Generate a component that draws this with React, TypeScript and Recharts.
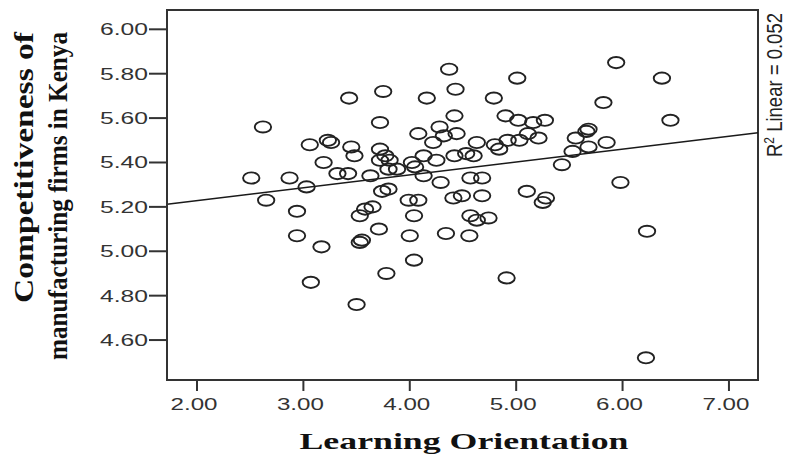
import { ScatterChart, Scatter, XAxis, YAxis, ReferenceLine, ReferenceArea } from 'recharts'

// Learning Orientation scores (x) and competitiveness scores (y), one entry per firm
const learningOrientation = [
  2.51, 2.62, 2.65, 2.87, 2.94, 2.94, 3.03, 3.06, 3.07, 3.17,
  3.19, 3.23, 3.26, 3.32, 3.42, 3.43, 3.45, 3.48, 3.50, 3.53,
  3.53, 3.55, 3.58, 3.63, 3.65, 3.71, 3.72, 3.72, 3.72, 3.74,
  3.75, 3.77, 3.78, 3.80, 3.81, 3.80, 3.88, 3.99, 4.00, 4.02,
  4.04, 4.04, 4.05, 4.08, 4.08, 4.13, 4.13, 4.16, 4.22, 4.25,
  4.28, 4.29, 4.32, 4.34, 4.37, 4.41, 4.42, 4.42, 4.43, 4.44,
  4.49, 4.53, 4.56, 4.57, 4.57, 4.60, 4.63, 4.63, 4.68, 4.68,
  4.74, 4.79, 4.80, 4.84, 4.90, 4.91, 4.92, 5.01, 5.02, 5.03,
  5.10, 5.11, 5.16, 5.21, 5.25, 5.27, 5.28, 5.43, 5.53, 5.56,
  5.66, 5.68, 5.68, 5.82, 5.85, 5.94, 5.98, 6.23, 6.22, 6.37,
  6.45,
]

const competitiveness = [
  5.33, 5.56, 5.23, 5.33, 5.18, 5.07, 5.29, 5.48, 4.86, 5.02,
  5.40, 5.50, 5.49, 5.35, 5.35, 5.69, 5.47, 5.43, 4.76, 5.16,
  5.04, 5.05, 5.19, 5.34, 5.20, 5.10, 5.58, 5.46, 5.41, 5.27,
  5.72, 5.43, 4.90, 5.28, 5.41, 5.37, 5.37, 5.23, 5.07, 5.40,
  5.16, 4.96, 5.38, 5.23, 5.53, 5.43, 5.34, 5.69, 5.49, 5.41,
  5.56, 5.31, 5.52, 5.08, 5.82, 5.24, 5.61, 5.43, 5.73, 5.53,
  5.25, 5.44, 5.07, 5.16, 5.33, 5.43, 5.14, 5.49, 5.25, 5.33,
  5.15, 5.69, 5.48, 5.46, 5.61, 4.88, 5.50, 5.78, 5.59, 5.50,
  5.27, 5.53, 5.58, 5.51, 5.22, 5.59, 5.24, 5.39, 5.45, 5.51,
  5.54, 5.55, 5.47, 5.67, 5.49, 5.85, 5.31, 5.09, 4.52, 5.78,
  5.59,
]

const xTicks = [2, 3, 4, 5, 6, 7]
const yTicks = [4.6, 4.8, 5.0, 5.2, 5.4, 5.6, 5.8, 6.0]
const xDomain = [1.718, 7.273]
const yDomain = [4.42, 6.087]

// fit line end points (linear fit, R2 = 0.052)
const fitX = [1.718, 7.273]
const fitY = [5.212, 5.534]

const rSquared = '0.052'

const SERIF = "'Liberation Serif', 'Times New Roman', serif"
const SANS = "'Liberation Sans', Arial, sans-serif"
const NARROW = "'Liberation Sans Narrow', 'Liberation Sans', Arial, sans-serif"

const data = learningOrientation.map((x, i) => ({ x, y: competitiveness[i] }))

const OpenCircle = (props: any) => {
  const { cx, cy } = props
  if (cx == null || cy == null) return null
  return <ellipse cx={cx} cy={cy} rx={8.2} ry={5.6} fill="none" stroke="#222" strokeWidth={1.9} />
}

const YTick = ({ x, y, payload }: any) => (
  <text x={x} y={y + 6} textAnchor="end" fontFamily={SANS} fontSize={16.5} fill="#333"
    textLength={48} lengthAdjust="spacingAndGlyphs">
    {Number(payload.value).toFixed(2)}
  </text>
)

const XTick = ({ x, y, payload }: any) => (
  <text x={x - 3} y={y + 17} textAnchor="middle" fontFamily={SANS} fontSize={16.5} fill="#333"
    textLength={47} lengthAdjust="spacingAndGlyphs">
    {Number(payload.value).toFixed(2)}
  </text>
)

const YTitle = () => (
  <g fontFamily={SERIF} fontWeight="bold" fontSize={22} fill="#111">
    <g transform="translate(33, 32) scale(1.2, 1) rotate(-90)">
      <text x={0} y={0} textAnchor="end" textLength={271} lengthAdjust="spacingAndGlyphs">
        Competitiveness of
      </text>
    </g>
    <g transform="translate(67, 32) scale(1.2, 1) rotate(-90)">
      <text x={0} y={0} textAnchor="end" textLength={328} lengthAdjust="spacingAndGlyphs">
        manufacturing firms in Kenya
      </text>
    </g>
  </g>
)

const XTitle = () => (
  <text x={464} y={449} textAnchor="middle" fontFamily={SERIF} fontWeight="bold" fontSize={23} fill="#111"
    textLength={329} lengthAdjust="spacingAndGlyphs">
    Learning Orientation
  </text>
)

const FitLabel = () => (
  <g transform="translate(782, 157) scale(1.3, 1) rotate(-90)">
    <text x={0} y={0} fontFamily={NARROW} fontSize={17} fill="#222" textLength={144} lengthAdjust="spacingAndGlyphs">
      R<tspan dy={-6} fontSize={11}>2</tspan><tspan dy={6}> Linear = {rSquared}</tspan>
    </text>
  </g>
)

export default function App() {
  return (
    <div style={{ position: 'absolute', left: 0, top: 0, width: 790, height: 456, background: '#fff' }}>
      <ScatterChart width={790} height={456} margin={{ top: 10, right: 32, bottom: 0, left: 0 }}>
        <XAxis
          type="number"
          dataKey="x"
          domain={xDomain}
          ticks={xTicks}
          allowDataOverflow
          height={76}
          tickSize={11}
          tickMargin={2}
          tick={<XTick />}
          axisLine={{ stroke: '#333', strokeWidth: 2 }}
          tickLine={{ stroke: '#333', strokeWidth: 2 }}
          label={{ content: () => <XTitle /> }}
        />
        <YAxis
          type="number"
          dataKey="y"
          domain={yDomain}
          ticks={yTicks}
          allowDataOverflow
          width={167}
          tickSize={18}
          tickMargin={1}
          tick={<YTick />}
          axisLine={{ stroke: '#333', strokeWidth: 2 }}
          tickLine={{ stroke: '#333', strokeWidth: 2 }}
          label={{ content: () => <YTitle /> }}
        />
        <ReferenceArea
          x1={xDomain[0]}
          x2={xDomain[1]}
          y1={yDomain[0]}
          y2={yDomain[1]}
          fill="none"
          stroke="#333"
          strokeWidth={2}
          ifOverflow="visible"
        />
        <ReferenceLine
          segment={[{ x: fitX[0], y: fitY[0] }, { x: fitX[1], y: fitY[1] }]}
          stroke="#1a1a1a"
          strokeWidth={1.5}
          ifOverflow="visible"
          label={{ content: () => <FitLabel /> }}
        />
        <Scatter data={data} shape={<OpenCircle />} isAnimationActive={false} />
      </ScatterChart>
    </div>
  )
}
